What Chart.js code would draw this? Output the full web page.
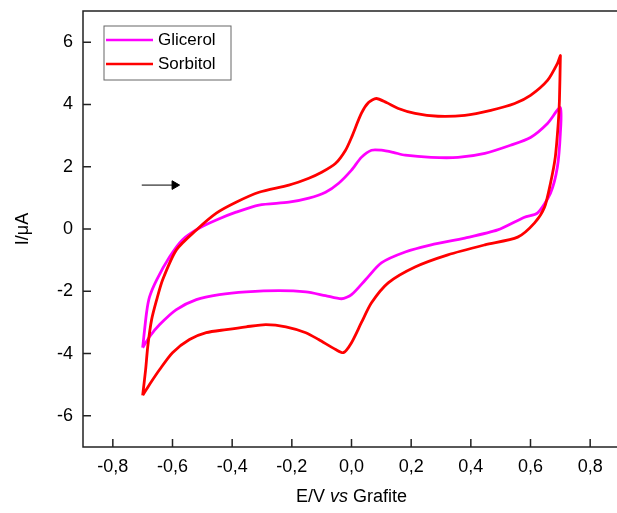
<!DOCTYPE html>
<html lang="pt">
<head>
  <meta charset="UTF-8">
  <title>Voltametria cíclica</title>
  <style>
    html, body{ margin:0; padding:0; overflow:hidden; background:#fff; }
    .chart-box{ position:relative; width:626px; height:513px; }
  </style>
</head>
<body>
  <div class="chart-box">
    <canvas id="cvChart"></canvas>
  </div>
  <script src="https://cdn.jsdelivr.net/npm/chart.js"></script>
  <script type="text/javascript">
    // potencial (V) e corrente (uA): varredura direta e depois inversa
    const glicerolE = [-0.70, -0.687, -0.677, -0.653, -0.61, -0.567, -0.51, -0.453, -0.387, -0.31, -0.21, -0.143, -0.087, -0.043, 0.0, 0.033, 0.067, 0.10, 0.14, 0.18, 0.267, 0.357, 0.447, 0.533, 0.60, 0.657, 0.70,
                       0.70, 0.69, 0.667, 0.623, 0.58, 0.49, 0.38, 0.267, 0.18, 0.10, 0.047, 0.0, -0.033, -0.087, -0.153, -0.243, -0.353, -0.443, -0.52, -0.587, -0.643, -0.677, -0.70]
    const glicerolI = [-3.81, -2.69, -2.18, -1.63, -0.90, -0.35, 0.03, 0.29, 0.54, 0.77, 0.86, 0.99, 1.18, 1.47, 1.89, 2.30, 2.53, 2.53, 2.46, 2.37, 2.30, 2.30, 2.43, 2.69, 2.94, 3.39, 3.90,
                       3.07, 1.98, 1.15, 0.51, 0.38, -0.03, -0.29, -0.51, -0.74, -1.09, -1.63, -2.11, -2.24, -2.14, -2.02, -1.98, -2.02, -2.11, -2.27, -2.59, -3.07, -3.46, -3.81]

    const sorbitolE = [-0.70, -0.69, -0.683, -0.67, -0.653, -0.633, -0.587, -0.52, -0.453, -0.387, -0.31, -0.21, -0.143, -0.10, -0.053, -0.02, 0.0, 0.033, 0.057, 0.083, 0.117, 0.157, 0.213, 0.29, 0.38, 0.467, 0.547, 0.60, 0.657, 0.69, 0.70,
                       0.70, 0.697, 0.693, 0.683, 0.667, 0.647, 0.613, 0.557, 0.447, 0.323, 0.213, 0.123, 0.067, 0.033, 0.0, -0.027, -0.053, -0.11, -0.153, -0.22, -0.287, -0.353, -0.42, -0.487, -0.543, -0.60, -0.643, -0.677, -0.70]
    const sorbitolI = [-5.34, -4.51, -3.78, -2.91, -2.27, -1.63, -0.67, -0.03, 0.51, 0.86, 1.18, 1.41, 1.63, 1.82, 2.11, 2.53, 2.94, 3.71, 4.06, 4.19, 4.06, 3.87, 3.71, 3.62, 3.65, 3.81, 4.03, 4.29, 4.77, 5.31, 5.57,
                       5.50, 4.13, 3.39, 2.30, 1.47, 0.70, 0.19, -0.26, -0.51, -0.83, -1.22, -1.73, -2.37, -3.01, -3.65, -3.97, -3.87, -3.55, -3.33, -3.14, -3.07, -3.14, -3.23, -3.33, -3.55, -3.97, -4.51, -4.99, -5.34]

    // seta indicando o sentido da varredura
    const arrowE = [-0.703, -0.593]
    const arrowI = [1.41, 1.41]

    const xTicks = [-0.8, -0.6, -0.4, -0.2, 0.0, 0.2, 0.4, 0.6, 0.8]
    const yTicks = [-6, -4, -2, 0, 2, 4, 6]

    const FONT = "'Liberation Sans', Arial, sans-serif"

    function toPoints(xs, ys){
      return xs.map((v, i) => ({x: v, y: ys[i]}))
    }

    // moldura, ticks para dentro, legenda e título do eixo x (com "vs" em itálico)
    const framePlugin = {
      id: 'frame',
      afterDraw(chart){
        const {ctx, chartArea: a, scales} = chart
        ctx.save()
        ctx.strokeStyle = '#222'
        ctx.lineWidth = 1.5
        ctx.strokeRect(a.left, a.top, a.right - a.left, a.bottom - a.top)

        ctx.beginPath()
        scales.x.ticks.forEach(t => {
          const px = scales.x.getPixelForValue(t.value)
          ctx.moveTo(px, a.bottom)
          ctx.lineTo(px, a.bottom - 8)
        })
        scales.y.ticks.forEach(t => {
          const py = scales.y.getPixelForValue(t.value)
          ctx.moveTo(a.left, py)
          ctx.lineTo(a.left + 8, py)
        })
        ctx.stroke()

        // legenda
        const items = chart.data.datasets.filter(d => d.label)
        const bx = a.left + 21, by = a.top + 15
        ctx.lineWidth = 1
        ctx.strokeStyle = '#666'
        ctx.strokeRect(bx, by, 127, 54)
        ctx.font = '17px ' + FONT
        ctx.textBaseline = 'middle'
        ctx.fillStyle = '#000'
        items.forEach((d, i) => {
          const ly = by + 14 + i * 24
          ctx.strokeStyle = d.borderColor
          ctx.lineWidth = 2.5
          ctx.beginPath()
          ctx.moveTo(bx + 2, ly)
          ctx.lineTo(bx + 49, ly)
          ctx.stroke()
          ctx.fillText(d.label, bx + 54, ly)
        })

        // título do eixo x
        const parts = [['E/V ', ''], ['vs', 'italic '], [' Grafite', '']]
        let total = 0
        parts.forEach(p => { ctx.font = p[1] + '18px ' + FONT; total += ctx.measureText(p[0]).width })
        let tx = (a.left + a.right) / 2 - total / 2
        ctx.textAlign = 'left'
        parts.forEach(p => {
          ctx.font = p[1] + '18px ' + FONT
          ctx.fillText(p[0], tx, 497)
          tx += ctx.measureText(p[0]).width
        })
        ctx.restore()
      }
    }

    const cvChart = document.getElementById('cvChart')

    new Chart(cvChart, {
      type: 'scatter',
      data: {
        datasets: [
          {
            label: 'Glicerol',
            data: toPoints(glicerolE, glicerolI),
            showLine: true,
            borderColor: '#ff00ff',
            borderWidth: 2.8,
            pointRadius: 0,
            tension: 0.25,
            order: 2
          },
          {
            label: 'Sorbitol',
            data: toPoints(sorbitolE, sorbitolI),
            showLine: true,
            borderColor: '#ff0000',
            borderWidth: 2.8,
            pointRadius: 0,
            tension: 0.25,
            order: 1
          },
          {
            label: '',
            data: toPoints(arrowE, arrowI),
            showLine: true,
            borderColor: '#000',
            backgroundColor: '#000',
            borderWidth: 1,
            pointStyle: 'triangle',
            pointRotation: 90,
            pointRadius: [0, 5],
            order: 0
          }
        ]
      },
      options: {
        responsive: true,
        maintainAspectRatio: false,
        animation: false,
        devicePixelRatio: 1,
        layout: { padding: { top: 11, right: 3, left: 0, bottom: 0 } },
        plugins: {
          legend: { display: false },
          tooltip: { enabled: false }
        },
        scales: {
          x: {
            type: 'linear',
            min: -0.9,
            max: 0.9,
            afterBuildTicks: s => { s.ticks = xTicks.map(v => ({value: v})) },
            afterFit: s => { s.height = 66; s.paddingLeft = 0; s.paddingRight = 0 },
            grid: { display: false, drawTicks: false },
            border: { display: false },
            ticks: {
              color: '#000',
              padding: 9,
              font: { family: FONT, size: 18 },
              callback: v => v.toFixed(1).replace('.', ',')
            }
          },
          y: {
            type: 'linear',
            min: -7,
            max: 7,
            afterBuildTicks: s => { s.ticks = yTicks.map(v => ({value: v})) },
            afterFit: s => { s.width = 83; s.paddingTop = 0; s.paddingBottom = 0 },
            grid: { display: false, drawTicks: false },
            border: { display: false },
            ticks: {
              color: '#000',
              padding: 10,
              font: { family: FONT, size: 18 },
              callback: v => String(v)
            },
            title: {
              display: true,
              text: 'I/μA',
              color: '#000',
              padding: { top: 12 },
              font: { family: FONT, size: 18 }
            }
          }
        }
      },
      plugins: [framePlugin]
    })
  </script>
</body>
</html>
